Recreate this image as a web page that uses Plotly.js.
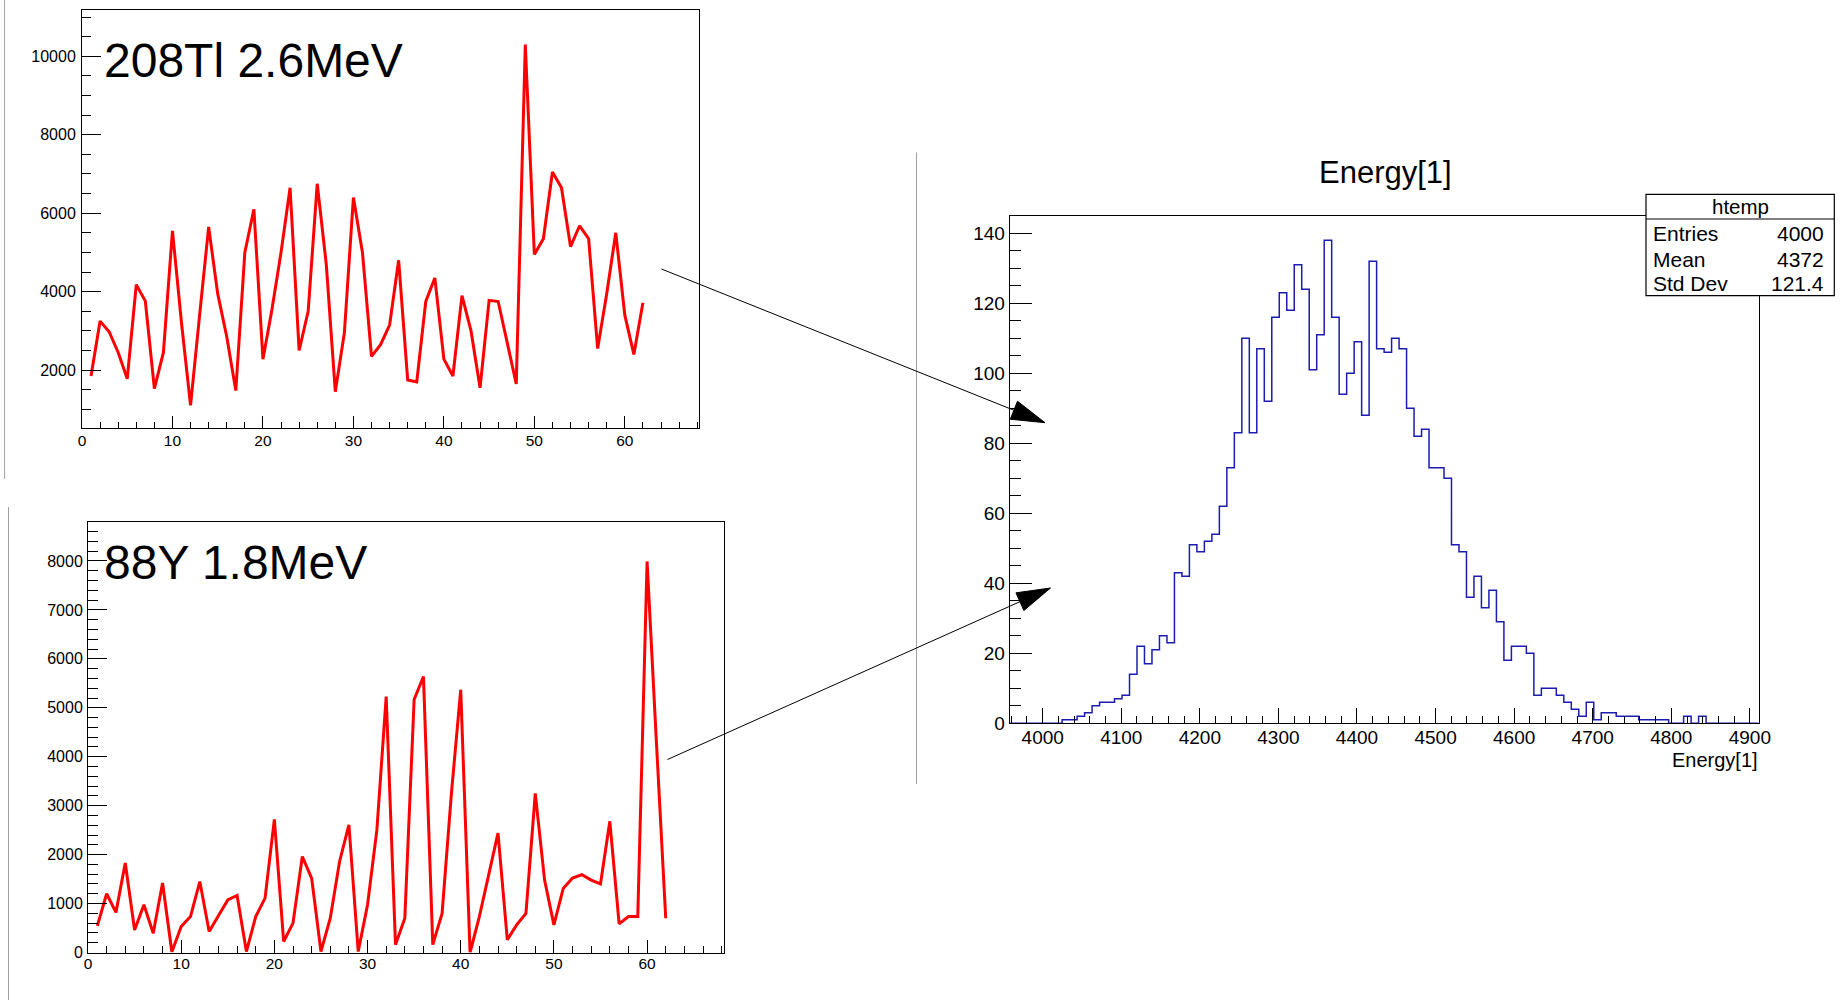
<!DOCTYPE html>
<html>
<head>
<meta charset="utf-8">
<script src="https://cdn.plot.ly/plotly-3.0.1.min.js"></script>
<style>
  html, body { margin: 0; padding: 0; background: #fff; }
  #chart { width: 1840px; height: 1000px; }
</style>
</head>
<body>
<div id="chart"></div>
<script>
// ---------------- DATA ----------------
// Top-left graph: 208Tl 2.6MeV
const tlLabel = "208Tl 2.6MeV";
const tlX = [1,2,3,4,5,6,7,8,9,10,11,12,13,14,15,16,17,18,19,20,21,22,23,24,25,26,27,28,29,30,31,
             32,33,34,35,36,37,38,39,40,41,42,43,44,45,46,47,48,49,50,51,52,53,54,55,56,57,58,59,60,61,62];
const tlY = [1850,3250,2980,2450,1780,4180,3760,1530,2450,5550,3200,1100,3400,5650,3950,2850,1480,5000,6100,2280,
             3550,5000,6650,2500,3500,6750,4700,1450,2950,6400,5000,2350,2650,3150,4800,1750,1700,3750,4350,2280,
             1850,3900,3000,1550,3780,3750,2700,1650,10300,4950,5350,7050,6650,5150,5680,5350,2550,3950,5500,3400,
             2400,3720];

// Bottom-left graph: 88Y 1.8MeV
const blLabel = "88Y 1.8MeV";
const blX = [1,2,3,4,5,6,7,8,9,10,11,12,13,14,15,16,17,18,19,20,21,22,23,24,25,26,27,28,29,30,31,
             32,33,34,35,36,37,38,39,40,41,42,43,44,45,46,47,48,49,50,51,52,53,54,55,56,57,58,59,60,61,62];
const blY = [545,1200,820,1830,460,975,395,1420,10,530,735,1450,430,750,1075,1165,20,735,1110,2720,
             225,600,1960,1520,20,700,1860,2610,20,975,2500,5230,160,700,5170,5640,160,800,3250,5370,
             0,735,1620,2440,260,565,800,3250,1480,565,1310,1520,1590,1480,1400,2680,585,735,735,7990,
             4300,700];

// Right histogram: Energy[1] (100 bins)
const histTitle = "Energy[1]";
const histXTitle = "Energy[1]";
const histXmin = 3958;
const histBinWidth = 9.53;
const histCounts = [0,0,0,0,0,0,0,
  1,1,2,3,5,6,6,7,8,
  14,22,17,21,25,23,43,42,51,49,52,54,
  62,73,83,110,83,107,92,116,123,118,131,124,
  101,111,138,116,94,100,109,88,132,107,106,110,
  107,90,82,84,73,73,70,51,49,36,42,33,
  38,29,18,22,22,20,8,10,10,8,6,4,
  2,6,1,3,3,2,2,2,1,1,1,1,0,0,2,0,2,
  0,0,0,0,0,0,0];

// Stats box
const statsName = "htemp";
const statsLabels = ["Entries", "Mean", "Std Dev"];
const statsValues = ["4000", "4372", "121.4"];

// ---------------- LAYOUT HELPERS ----------------
const W = 1840, H = 1000;
const px = x => x / W;
const py = y => 1 - y / H;
const FONT = "Liberation Sans, Arial, Helvetica, sans-serif";

const edges = histCounts.map((c, i) => histXmin + i * histBinWidth);
edges.push(histXmin + histCounts.length * histBinWidth);
const stepY = histCounts.concat([histCounts[histCounts.length - 1]]);

const traces = [
  { x: tlX, y: tlY, type: "scatter", mode: "lines", xaxis: "x", yaxis: "y",
    line: { color: "#ff0000", width: 3 }, hoverinfo: "none" },
  { x: blX, y: blY, type: "scatter", mode: "lines", xaxis: "x2", yaxis: "y2",
    line: { color: "#ff0000", width: 3 }, hoverinfo: "none" },
  { x: edges, y: stepY, type: "scatter", mode: "lines", xaxis: "x3", yaxis: "y3",
    line: { color: "#1c1cb0", width: 1.5, shape: "hv" }, hoverinfo: "none" }
];

function axisBase(extra) {
  return Object.assign({
    showline: true, mirror: true, linecolor: "#000", linewidth: 1,
    ticks: "inside", tickcolor: "#000", tickwidth: 1,
    showgrid: false, zeroline: false, tickformat: "d",
    tickfont: { family: FONT, size: 15.5, color: "#000" },
    fixedrange: true
  }, extra);
}

const tl = { l: 82, r: 699, t: 10, b: 428 };
const bl = { l: 88, r: 723.5, t: 522, b: 952.5 };
const hr = { l: 1009.7, r: 1758.5, t: 216, b: 723.3 };

const layout = {
  width: W, height: H,
  margin: { l: 0, r: 0, t: 0, b: 0, pad: 0 },
  paper_bgcolor: "#fff", plot_bgcolor: "rgba(0,0,0,0)",
  showlegend: false,
  font: { family: FONT, color: "#000" },
  xaxis: axisBase({ domain: [px(tl.l), px(tl.r)], anchor: "y", range: [0, 68.2],
    dtick: 10, tick0: 0, ticklen: 12.5, ticklabelstandoff: -2,
    minor: { dtick: 2, ticklen: 6.3, ticks: "inside", tickcolor: "#000", tickwidth: 1 } }),
  yaxis: axisBase({ domain: [py(tl.b), py(tl.t)], anchor: "x", range: [525, 11180],
    dtick: 2000, tick0: 0, ticklen: 18.5, ticklabelstandoff: 2,
    tickfont: { family: FONT, size: 16, color: "#000" },
    minor: { dtick: 500, ticklen: 9.3, ticks: "inside", tickcolor: "#000", tickwidth: 1 } }),
  xaxis2: axisBase({ domain: [px(bl.l), px(bl.r)], anchor: "y2", range: [0, 68.2],
    dtick: 10, tick0: 0, ticklen: 13, ticklabelstandoff: -3,
    minor: { dtick: 2, ticklen: 6.5, ticks: "inside", tickcolor: "#000", tickwidth: 1 } }),
  yaxis2: axisBase({ domain: [py(bl.b), py(bl.t)], anchor: "x2", range: [0, 8796],
    dtick: 1000, tick0: 0, ticklen: 19, ticklabelstandoff: 1,
    tickfont: { family: FONT, size: 16, color: "#000" },
    minor: { dtick: 200, ticklen: 9.5, ticks: "inside", tickcolor: "#000", tickwidth: 1 } }),
  xaxis3: axisBase({ domain: [px(hr.l), px(hr.r)], anchor: "y3",
    range: [histXmin, histXmin + histCounts.length * histBinWidth],
    dtick: 100, tick0: 0, ticklen: 15.2, ticklabelstandoff: -3,
    tickfont: { family: FONT, size: 19, color: "#000" },
    minor: { dtick: 20, ticklen: 7.6, ticks: "inside", tickcolor: "#000", tickwidth: 1 } }),
  yaxis3: axisBase({ domain: [py(hr.b), py(hr.t)], anchor: "x3", range: [0, 144.9],
    dtick: 20, tick0: 0, ticklen: 22.5,
    tickfont: { family: FONT, size: 19, color: "#000" },
    minor: { dtick: 5, ticklen: 11.3, ticks: "inside", tickcolor: "#000", tickwidth: 1 } }),
  shapes: [],
  annotations: []
};

// Thin grey separator lines
[[4.6, 0, 4.6, 479], [8.5, 507, 8.5, 1000], [916.5, 152.5, 916.5, 784]].forEach(s => {
  layout.shapes.push({ type: "line", xref: "paper", yref: "paper",
    x0: px(s[0]), y0: py(s[1]), x1: px(s[2]), y1: py(s[3]),
    line: { color: "#a0a0a0", width: 1 } });
});

// Arrows (tail -> tip) with filled triangular heads
function arrow(tail, tip, len, halfW) {
  const dx = tip[0] - tail[0], dy = tip[1] - tail[1];
  const d = Math.hypot(dx, dy), ux = dx / d, uy = dy / d;
  const bx = tip[0] - ux * len, by = tip[1] - uy * len;
  const p1 = [bx - uy * halfW, by + ux * halfW], p2 = [bx + uy * halfW, by - ux * halfW];
  layout.shapes.push({ type: "line", xref: "paper", yref: "paper",
    x0: px(tail[0]), y0: py(tail[1]), x1: px(bx), y1: py(by),
    line: { color: "#000", width: 1 } });
  layout.shapes.push({ type: "path", xref: "paper", yref: "paper",
    path: `M${px(tip[0])},${py(tip[1])} L${px(p1[0])},${py(p1[1])} L${px(p2[0])},${py(p2[1])} Z`,
    fillcolor: "#000", line: { color: "#000", width: 1 } });
}
arrow([661.5, 269], [1045, 422.7], 33.5, 9.7);
arrow([667.5, 759.5], [1050.5, 588], 33.5, 9.7);

// Stats box
const sb = { l: 1646, r: 1834.3, t: 194.3, b: 295.7, hdr: 219 };
layout.shapes.push({ type: "rect", xref: "paper", yref: "paper",
  x0: px(sb.l), x1: px(sb.r), y0: py(sb.b), y1: py(sb.t),
  fillcolor: "#fff", line: { color: "#000", width: 1.2 } });
layout.shapes.push({ type: "line", xref: "paper", yref: "paper",
  x0: px(sb.l), x1: px(sb.r), y0: py(sb.hdr), y1: py(sb.hdr),
  line: { color: "#000", width: 1.2 } });

function ann(text, x, y, xanchor, size, yanchor) {
  layout.annotations.push({ text: text, xref: "paper", yref: "paper",
    x: px(x), y: py(y), xanchor: xanchor, yanchor: yanchor || "middle",
    showarrow: false, borderpad: 0, borderwidth: 0,
    font: { family: FONT, size: size, color: "#000" } });
}
ann(statsName, (sb.l + sb.r) / 2, 207, "center", 20.5);
const rowY = [233.3, 259, 283.3];
statsLabels.forEach((t, i) => {
  ann(t, 1653, rowY[i], "left", 21);
  ann(statsValues[i], 1824, rowY[i], "right", 21);
});

// Titles / labels
ann(tlLabel, 103.5, 60.5, "left", 48);
ann(blLabel, 103.5, 562, "left", 48);
ann(histTitle, 1385, 172.5, "center", 31);
ann(histXTitle, 1758, 760, "right", 20);

Plotly.newPlot("chart", traces, layout, { displayModeBar: false, staticPlot: true });
</script>
</body>
</html>
